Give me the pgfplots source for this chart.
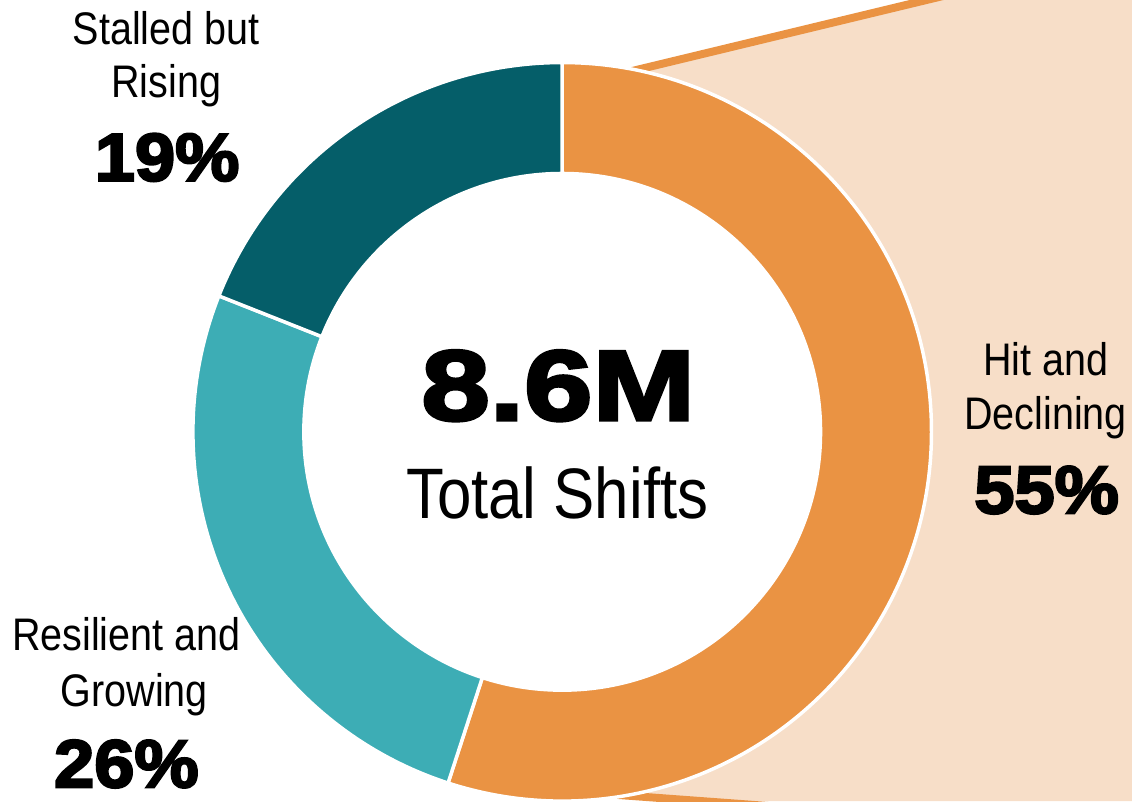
\documentclass[border=0pt]{standalone}
\usepackage{fontspec}
\setmainfont{Liberation Sans}
\usepackage{pgfplots}
\usepackage{pgfplotstable}
\pgfplotsset{compat=1.18}
\newfontfamily\narrowfont{Liberation Sans}[FakeStretch=0.865]
\newfontfamily\pctfont{Liberation Sans Bold}[FakeBold=3.5,FakeStretch=1.07]
\newfontfamily\bigfont{Liberation Sans Bold}[FakeBold=3.5,FakeStretch=1.24]
\definecolor{cOrange}{HTML}{EA9343}
\definecolor{cPeach}{HTML}{F7DEC8}
\definecolor{cDark}{HTML}{055E69}
\definecolor{cTeal}{HTML}{3DADB5}

\pgfplotstableread{
seg value
Hit 55
Resilient 26
Stalled 19
}\donutdata

\begin{document}
\pgfplotstablegetelem{0}{value}\of\donutdata\let\vA\pgfplotsretval
\pgfplotstablegetelem{1}{value}\of\donutdata\let\vB\pgfplotsretval
\pgfplotstablegetelem{2}{value}\of\donutdata\let\vC\pgfplotsretval
\pgfmathsetmacro\aA{90-3.6*\vA}
\pgfmathsetmacro\aB{\aA-3.6*\vB}
\pgfmathsetmacro\aC{\aB-3.6*\vC}
\begin{tikzpicture}
\begin{axis}[name=ax,width=1132pt,height=807pt,scale only axis,
  xmin=3,xmax=1135,ymin=0,ymax=807,enlargelimits=false,
  axis lines=none,clip=true]
% callout area
\fill[cPeach] (axis cs:561,718.5) -- (axis cs:928,807) -- (axis cs:1140,807)
  -- (axis cs:1140,0) -- (axis cs:702,0) -- (axis cs:561,10.3) -- cycle;
\draw[cOrange, line width=8pt] (axis cs:561,718.5) -- (axis cs:960,814.7);
\draw[cOrange, line width=8pt] (axis cs:561,10.3) -- (axis cs:800,-7.2);
% donut
\fill[cOrange, draw=white, line width=3.5pt] (axis cs:561,372) -- ++(90:372pt)
  arc[start angle=90, end angle=\aA, radius=372pt] -- cycle;
\fill[cTeal, draw=white, line width=3.5pt] (axis cs:561,372) -- ++(\aA:372pt)
  arc[start angle=\aA, end angle=\aB, radius=372pt] -- cycle;
\fill[cDark, draw=white, line width=3.5pt] (axis cs:561,372) -- ++(\aB:372pt)
  arc[start angle=\aB, end angle=\aC, radius=372pt] -- cycle;
\fill[white] (axis cs:561,372) circle[radius=262pt];
% labels
\node[anchor=base,inner sep=0,font={\narrowfont\fontsize{46}{50}\selectfont}] at (axis cs:162,762) {Stalled but};
\node[anchor=base,inner sep=0,font={\narrowfont\fontsize{46}{50}\selectfont}] at (axis cs:162,709) {Rising};
\node[anchor=base,inner sep=0,font={\pctfont\fontsize{68}{70}\selectfont}] at (axis cs:163,625) {19\%};
\node[anchor=base,inner sep=0,font={\narrowfont\fontsize{46}{50}\selectfont}] at (axis cs:1048,429) {Hit and};
\node[anchor=base,inner sep=0,font={\narrowfont\fontsize{46}{50}\selectfont}] at (axis cs:1048,374) {Declining};
\node[anchor=base,inner sep=0,font={\pctfont\fontsize{68}{70}\selectfont}] at (axis cs:1049,290) {55\%};
\node[anchor=base,inner sep=0,font={\narrowfont\fontsize{46}{50}\selectfont}] at (axis cs:122,152) {Resilient and};
\node[anchor=base,inner sep=0,font={\narrowfont\fontsize{46}{50}\selectfont}] at (axis cs:130,95) {Growing};
\node[anchor=base,inner sep=0,font={\pctfont\fontsize{68}{70}\selectfont}] at (axis cs:122,14) {26\%};
\node[anchor=base,inner sep=0,font={\bigfont\fontsize{100}{104}\selectfont}] at (axis cs:557,384) {8.6M};
\node[anchor=base,inner sep=0,font={\narrowfont\fontsize{72}{76}\selectfont}] at (axis cs:556,285) {Total Shifts};
\end{axis}
\pgfresetboundingbox
\path (ax.south west) rectangle (ax.north east);
\end{tikzpicture}
\end{document}
